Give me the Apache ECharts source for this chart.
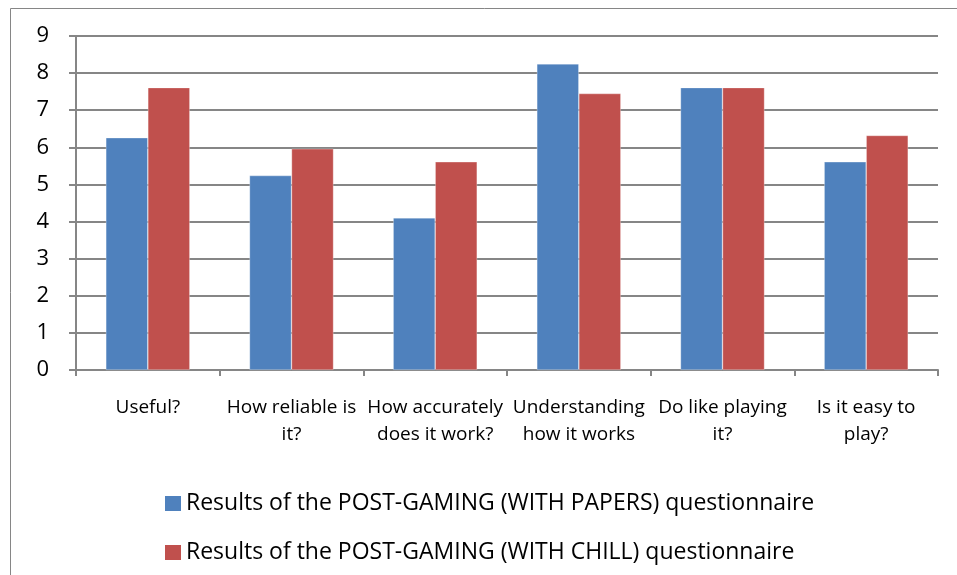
<!DOCTYPE html>
<html><head><meta charset="utf-8">
<script src="https://cdn.jsdelivr.net/npm/echarts@6/dist/echarts.min.js"></script>
<style>html,body{margin:0;padding:0;background:#fff}#c{width:957px;height:575px}</style>
</head><body><div id="c"></div>
<script>
const categories = ["Useful?", "How reliable is\nit?", "How accurately\ndoes it work?", "Understanding\nhow it works", "Do like playing\nit?", "Is it easy to\nplay?"];
const papersValues = [6.26, 5.24, 4.1, 8.25, 7.61, 5.61];
const chillValues = [7.61, 5.96, 5.61, 7.45, 7.61, 6.32];
const seriesNames = ["Results of the POST-GAMING (WITH PAPERS) questionnaire", "Results of the POST-GAMING (WITH CHILL) questionnaire"];
const yTicks = [0, 1, 2, 3, 4, 5, 6, 7, 8, 9];

const FONT = "Open Sans";
const chart = echarts.init(document.getElementById('c'), null, {renderer: 'canvas'});
chart.setOption({
  animation: false,
  textStyle: {fontFamily: FONT},
  graphic: [{type: 'rect', shape: {x: 10.5, y: 8.5, width: 960, height: 600}, style: {fill: 'none', stroke: '#868686', lineWidth: 1}, z: -1}],
  grid: {left: 76, right: 19, top: 36, bottom: 205},
  legend: {
    orient: 'vertical', left: 160, top: 487, itemGap: 26,
    itemWidth: 16, itemHeight: 15, icon: 'rect', itemStyle: {borderWidth: 0},
    textStyle: {fontSize: 23, color: '#000', fontFamily: FONT},
    data: seriesNames
  },
  xAxis: {
    type: 'category', data: categories,
    axisLine: {lineStyle: {color: '#868686', width: 2}},
    axisTick: {show: true, length: 6, lineStyle: {color: '#868686', width: 2}},
    axisLabel: {color: '#000', fontSize: 19, margin: 24, lineHeight: 27, interval: 0, fontFamily: FONT}
  },
  yAxis: {
    type: 'value', min: yTicks[0], max: yTicks[yTicks.length - 1], interval: 1,
    axisLine: {show: true, lineStyle: {color: '#868686', width: 2}},
    axisTick: {show: true, length: 7, lineStyle: {color: '#868686', width: 2}},
    axisLabel: {color: '#000', fontSize: 22, margin: 27, fontFamily: FONT},
    splitLine: {lineStyle: {color: '#868686', width: 2}}
  },
  series: [
    {name: seriesNames[0], type: 'bar', data: papersValues, barGap: '0%', barCategoryGap: '41.5%',
     itemStyle: {color: '#4F81BD', borderColor: 'rgba(255,255,255,0.5)', borderWidth: 0.6}},
    {name: seriesNames[1], type: 'bar', data: chillValues, barGap: '0%', barCategoryGap: '41.5%',
     itemStyle: {color: '#C0504D', borderColor: 'rgba(255,255,255,0.5)', borderWidth: 0.6}}
  ]
});
</script></body></html>
